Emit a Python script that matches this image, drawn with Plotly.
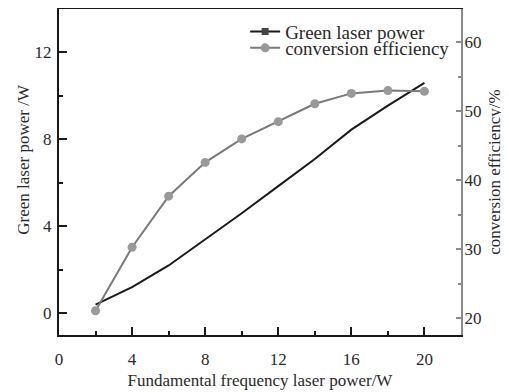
import plotly.graph_objects as go

fund_power = [2, 4, 6, 8, 10, 12, 14, 16, 18, 20]
green_power = [0.4, 1.2, 2.2, 3.4, 4.6, 5.85, 7.1, 8.45, 9.55, 10.6]
conv_eff = [21.1, 30.3, 37.7, 42.6, 46.0, 48.5, 51.1, 52.6, 53.0, 52.9]

FONT = "Liberation Serif"
BLACK = "#1a1a1a"
GRAY_LINE = "#7a7a7a"
GRAY_MARK = "#999999"
AX_GRAY = "#8a8a8a"
TXT = "#2a2a2a"

fig = go.Figure()
fig.add_trace(go.Scatter(x=fund_power, y=green_power, mode="lines",
                         line=dict(color=BLACK, width=2), showlegend=False))
fig.add_trace(go.Scatter(x=[None], y=[None], mode="lines+markers", name="Green laser power",
                         line=dict(color=BLACK, width=2), legend="legend",
                         marker=dict(symbol="square", size=7, color="#444444")))
fig.add_trace(go.Scatter(x=fund_power, y=conv_eff, mode="lines+markers", name="conversion efficiency",
                         yaxis="y2", line=dict(color=GRAY_LINE, width=2), legend="legend2",
                         marker=dict(symbol="circle", size=9, color=GRAY_MARK)))

leg_common = dict(xanchor="left", yanchor="middle", bgcolor="rgba(0,0,0,0)",
                  font=dict(family=FONT, size=19, color=TXT), itemwidth=30,
                  borderwidth=0)

# the page body has an 8px margin, so the figure is laid out 8px up/left of the screen positions
fig.update_layout(
    width=509, height=392,
    margin=dict(l=51, r=56, t=1, b=65, autoexpand=False),
    paper_bgcolor="white", plot_bgcolor="white",
    font=dict(family=FONT, size=17, color=TXT),
    xaxis=dict(range=[0, 22], tickvals=[0, 4, 8, 12, 16, 20], ticks="inside", ticklen=8, tickwidth=1.5,
               tickcolor=BLACK, showline=True, linecolor=BLACK, linewidth=2, mirror=True,
               showgrid=False, zeroline=False, automargin=False,
               minor=dict(tickvals=[2, 6, 10, 14, 18], ticks="inside", ticklen=4, tickcolor=BLACK, tickwidth=1.5),
               title=dict(text="Fundamental frequency laser power/W", standoff=6, font=dict(size=17)),
               ticklabelstandoff=8),
    yaxis=dict(range=[-1, 14], tickvals=[0, 4, 8, 12], ticks="inside", ticklen=8, tickwidth=1.5,
               tickcolor=BLACK, showline=True, linecolor=BLACK, linewidth=2,
               showgrid=False, zeroline=False, automargin=False,
               minor=dict(tickvals=[2, 6, 10], ticks="inside", ticklen=4, tickcolor=BLACK, tickwidth=1.5),
               ticklabelstandoff=2),
    yaxis2=dict(range=[17.58, 64.83], overlaying="y", side="right", tickvals=[20, 30, 40, 50, 60],
                ticks="inside", ticklen=5, tickwidth=1.5, tickcolor=AX_GRAY,
                showline=True, linecolor=AX_GRAY, linewidth=2, showgrid=False, zeroline=False,
                automargin=False,
                minor=dict(tickvals=[25, 35, 45, 55], ticks="inside", ticklen=3, tickcolor=AX_GRAY, tickwidth=1.5),
                title=dict(text="conversion efficiency/%", standoff=8, font=dict(size=17)),
                ticklabelstandoff=-2),
    legend=dict(x=0.463, y=1 - (23.7 - 1) / 326, **leg_common),
    legend2=dict(x=0.463, y=1 - (40 - 1) / 326, **leg_common),
    annotations=[dict(text="Green laser power /W", textangle=-90, xref="paper", yref="paper",
                      x=(14.7 - 51) / 402, y=1 - (151 - 1) / 326, showarrow=False,
                      xanchor="center", yanchor="middle",
                      font=dict(family=FONT, size=17, color=TXT))],
)

fig.write_html("out.html")
